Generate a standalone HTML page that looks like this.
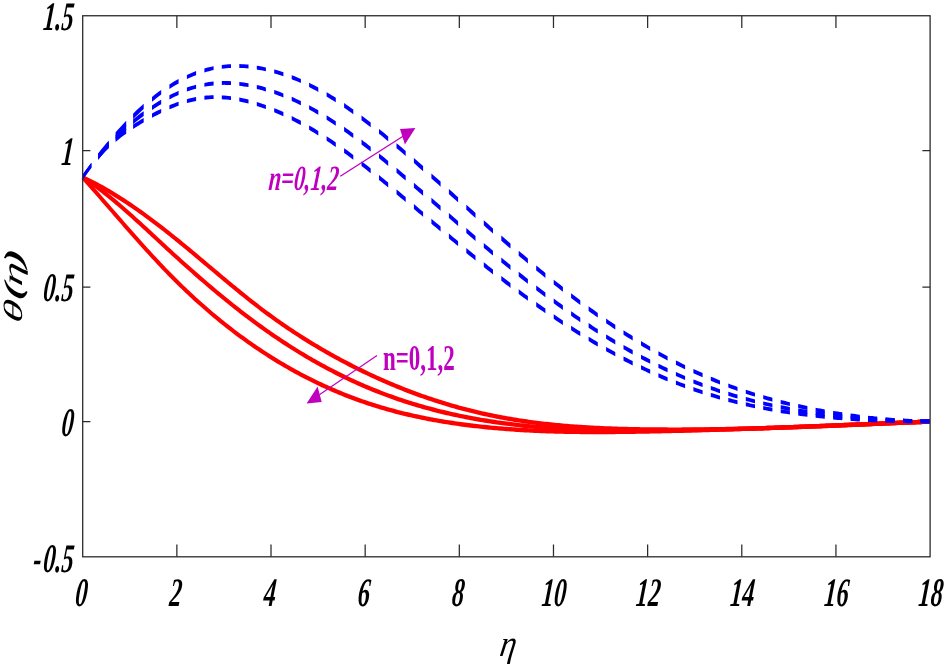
<!DOCTYPE html>
<html><head><meta charset="utf-8"><title>theta(eta)</title>
<style>
html,body{margin:0;padding:0;background:#fff;}
svg{display:block;}
text{font-family:"Liberation Serif",serif;}
.tk{font-weight:bold;font-style:italic;font-size:40.6px;fill:#000;}
</style></head><body>
<svg width="947" height="668" viewBox="0 0 947 668">
<rect width="947" height="668" fill="#fff"/>

<path d="M176.86,556.8v-12.2 M176.86,15.75v12.2 M271.01,556.8v-12.2 M271.01,15.75v12.2 M365.17,556.8v-12.2 M365.17,15.75v12.2 M459.32,556.8v-12.2 M459.32,15.75v12.2 M553.48,556.8v-12.2 M553.48,15.75v12.2 M647.63,556.8v-12.2 M647.63,15.75v12.2 M741.79,556.8v-12.2 M741.79,15.75v12.2 M835.94,556.8v-12.2 M835.94,15.75v12.2 M82.7,150.70h7.7 M930.1,150.70h-7.7 M82.7,287.00h7.7 M930.1,287.00h-7.7 M82.7,421.70h7.7 M930.1,421.70h-7.7" fill="none" stroke="#2b2b2b" stroke-width="1.25"/>
<path transform="scale(1,1.22)" d="M82.7,145.33 L84.7,146.10 L86.7,146.89 L88.7,147.69 L90.7,148.52 L92.7,149.35 L94.7,150.21 L96.7,151.08 L98.7,151.96 L100.7,152.86 L102.7,153.78 L104.7,154.71 L106.7,155.66 L108.7,156.62 L110.7,157.59 L112.7,158.58 L114.7,159.58 L116.7,160.60 L118.7,161.63 L120.7,162.67 L122.7,163.73 L124.7,164.79 L126.7,165.88 L128.7,166.97 L130.7,168.07 L132.7,169.19 L134.7,170.32 L136.7,171.46 L138.7,172.61 L140.7,173.78 L142.7,174.95 L144.7,176.14 L146.7,177.33 L148.7,178.54 L150.7,179.75 L152.7,180.98 L154.7,182.21 L156.7,183.46 L158.7,184.71 L160.7,185.97 L162.7,187.25 L164.7,188.53 L166.7,189.81 L168.7,191.11 L170.7,192.41 L172.7,193.73 L174.7,195.05 L176.7,196.37 L178.7,197.70 L180.7,199.04 L182.7,200.39 L184.7,201.74 L186.7,203.09 L188.7,204.45 L190.7,205.81 L192.7,207.18 L194.7,208.55 L196.7,209.92 L198.7,211.30 L200.7,212.67 L202.7,214.05 L204.7,215.43 L206.7,216.81 L208.7,218.19 L210.7,219.57 L212.7,220.95 L214.7,222.33 L216.7,223.71 L218.7,225.09 L220.7,226.46 L222.7,227.83 L224.7,229.20 L226.7,230.57 L228.7,231.93 L230.7,233.29 L232.7,234.64 L234.7,235.99 L236.7,237.33 L238.7,238.67 L240.7,240.00 L242.7,241.33 L244.7,242.65 L246.7,243.96 L248.7,245.26 L250.7,246.56 L252.7,247.84 L254.7,249.12 L256.7,250.39 L258.7,251.65 L260.7,252.90 L262.7,254.14 L264.7,255.37 L266.7,256.58 L268.7,257.79 L270.7,258.99 L272.7,260.18 L274.7,261.35 L276.7,262.52 L278.7,263.68 L280.7,264.83 L282.7,265.97 L284.7,267.09 L286.7,268.21 L288.7,269.32 L290.7,270.42 L292.7,271.51 L294.7,272.59 L296.7,273.67 L298.7,274.73 L300.7,275.78 L302.7,276.83 L304.7,277.86 L306.7,278.89 L308.7,279.90 L310.7,280.91 L312.7,281.91 L314.7,282.90 L316.7,283.88 L318.7,284.86 L320.7,285.82 L322.7,286.78 L324.7,287.72 L326.7,288.66 L328.7,289.59 L330.7,290.52 L332.7,291.43 L334.7,292.34 L336.7,293.24 L338.7,294.13 L340.7,295.01 L342.7,295.88 L344.7,296.75 L346.7,297.61 L348.7,298.46 L350.7,299.30 L352.7,300.14 L354.7,300.97 L356.7,301.79 L358.7,302.60 L360.7,303.40 L362.7,304.20 L364.7,304.99 L366.7,305.78 L368.7,306.55 L370.7,307.32 L372.7,308.09 L374.7,308.84 L376.7,309.59 L378.7,310.33 L380.7,311.06 L382.7,311.79 L384.7,312.51 L386.7,313.22 L388.7,313.92 L390.7,314.62 L392.7,315.31 L394.7,315.99 L396.7,316.66 L398.7,317.33 L400.7,317.99 L402.7,318.65 L404.7,319.29 L406.7,319.93 L408.7,320.56 L410.7,321.19 L412.7,321.81 L414.7,322.42 L416.7,323.02 L418.7,323.62 L420.7,324.21 L422.7,324.79 L424.7,325.36 L426.7,325.93 L428.7,326.49 L430.7,327.04 L432.7,327.59 L434.7,328.13 L436.7,328.66 L438.7,329.19 L440.7,329.71 L442.7,330.22 L444.7,330.72 L446.7,331.22 L448.7,331.71 L450.7,332.19 L452.7,332.67 L454.7,333.14 L456.7,333.60 L458.7,334.05 L460.7,334.50 L462.7,334.94 L464.7,335.38 L466.7,335.80 L468.7,336.22 L470.7,336.64 L472.7,337.04 L474.7,337.44 L476.7,337.83 L478.7,338.22 L480.7,338.60 L482.7,338.97 L484.7,339.33 L486.7,339.69 L488.7,340.04 L490.7,340.39 L492.7,340.73 L494.7,341.06 L496.7,341.38 L498.7,341.70 L500.7,342.01 L502.7,342.32 L504.7,342.62 L506.7,342.91 L508.7,343.20 L510.7,343.48 L512.7,343.76 L514.7,344.02 L516.7,344.29 L518.7,344.55 L520.7,344.80 L522.7,345.05 L524.7,345.29 L526.7,345.52 L528.7,345.75 L530.7,345.98 L532.7,346.20 L534.7,346.41 L536.7,346.62 L538.7,346.82 L540.7,347.02 L542.7,347.22 L544.7,347.40 L546.7,347.59 L548.7,347.77 L550.7,347.94 L552.7,348.11 L554.7,348.28 L556.7,348.44 L558.7,348.59 L560.7,348.75 L562.7,348.89 L564.7,349.04 L566.7,349.17 L568.7,349.31 L570.7,349.44 L572.7,349.57 L574.7,349.69 L576.7,349.81 L578.7,349.92 L580.7,350.03 L582.7,350.14 L584.7,350.24 L586.7,350.34 L588.7,350.44 L590.7,350.53 L592.7,350.62 L594.7,350.71 L596.7,350.79 L598.7,350.87 L600.7,350.95 L602.7,351.02 L604.7,351.09 L606.7,351.16 L608.7,351.22 L610.7,351.28 L612.7,351.34 L614.7,351.40 L616.7,351.45 L618.7,351.50 L620.7,351.55 L622.7,351.60 L624.7,351.64 L626.7,351.68 L628.7,351.72 L630.7,351.76 L632.7,351.79 L634.7,351.82 L636.7,351.85 L638.7,351.88 L640.7,351.91 L642.7,351.93 L644.7,351.96 L646.7,351.98 L648.7,352.00 L650.7,352.01 L652.7,352.03 L654.7,352.05 L656.7,352.06 L658.7,352.07 L660.7,352.08 L662.7,352.09 L664.7,352.10 L666.7,352.10 L668.7,352.11 L670.7,352.11 L672.7,352.11 L674.7,352.11 L676.7,352.11 L678.7,352.11 L680.7,352.11 L682.7,352.10 L684.7,352.10 L686.7,352.09 L688.7,352.08 L690.7,352.07 L692.7,352.06 L694.7,352.05 L696.7,352.03 L698.7,352.02 L700.7,352.00 L702.7,351.98 L704.7,351.97 L706.7,351.95 L708.7,351.93 L710.7,351.90 L712.7,351.88 L714.7,351.86 L716.7,351.83 L718.7,351.80 L720.7,351.78 L722.7,351.75 L724.7,351.72 L726.7,351.69 L728.7,351.66 L730.7,351.62 L732.7,351.59 L734.7,351.56 L736.7,351.52 L738.7,351.48 L740.7,351.45 L742.7,351.41 L744.7,351.37 L746.7,351.33 L748.7,351.29 L750.7,351.24 L752.7,351.20 L754.7,351.16 L756.7,351.11 L758.7,351.07 L760.7,351.02 L762.7,350.97 L764.7,350.93 L766.7,350.88 L768.7,350.83 L770.7,350.78 L772.7,350.73 L774.7,350.68 L776.7,350.62 L778.7,350.57 L780.7,350.52 L782.7,350.46 L784.7,350.41 L786.7,350.35 L788.7,350.30 L790.7,350.24 L792.7,350.18 L794.7,350.12 L796.7,350.07 L798.7,350.01 L800.7,349.95 L802.7,349.89 L804.7,349.83 L806.7,349.77 L808.7,349.70 L810.7,349.64 L812.7,349.58 L814.7,349.52 L816.7,349.45 L818.7,349.39 L820.7,349.33 L822.7,349.26 L824.7,349.20 L826.7,349.13 L828.7,349.06 L830.7,349.00 L832.7,348.93 L834.7,348.86 L836.7,348.80 L838.7,348.73 L840.7,348.66 L842.7,348.59 L844.7,348.53 L846.7,348.46 L848.7,348.39 L850.7,348.32 L852.7,348.25 L854.7,348.18 L856.7,348.11 L858.7,348.04 L860.7,347.97 L862.7,347.90 L864.7,347.83 L866.7,347.76 L868.7,347.69 L870.7,347.62 L872.7,347.55 L874.7,347.48 L876.7,347.41 L878.7,347.34 L880.7,347.27 L882.7,347.20 L884.7,347.13 L886.7,347.06 L888.7,346.99 L890.7,346.92 L892.7,346.85 L894.7,346.78 L896.7,346.71 L898.7,346.64 L900.7,346.57 L902.7,346.50 L904.7,346.43 L906.7,346.36 L908.7,346.29 L910.7,346.23 L912.7,346.16 L914.7,346.09 L916.7,346.02 L918.7,345.95 L920.7,345.88 L922.7,345.82 L924.7,345.75 L926.7,345.68 L928.7,345.62 L930.0,345.57" fill="none" stroke="#ff0000" stroke-width="3.6" stroke-linejoin="round"/>
<path transform="scale(1,1.22)" d="M82.7,145.33 L84.7,146.39 L86.7,147.48 L88.7,148.59 L90.7,149.72 L92.7,150.88 L94.7,152.06 L96.7,153.26 L98.7,154.48 L100.7,155.72 L102.7,156.98 L104.7,158.26 L106.7,159.56 L108.7,160.87 L110.7,162.21 L112.7,163.55 L114.7,164.91 L116.7,166.29 L118.7,167.68 L120.7,169.09 L122.7,170.50 L124.7,171.93 L126.7,173.37 L128.7,174.82 L130.7,176.28 L132.7,177.74 L134.7,179.22 L136.7,180.70 L138.7,182.19 L140.7,183.69 L142.7,185.19 L144.7,186.70 L146.7,188.21 L148.7,189.72 L150.7,191.24 L152.7,192.76 L154.7,194.28 L156.7,195.80 L158.7,197.32 L160.7,198.84 L162.7,200.36 L164.7,201.87 L166.7,203.39 L168.7,204.89 L170.7,206.40 L172.7,207.90 L174.7,209.40 L176.7,210.89 L178.7,212.37 L180.7,213.85 L182.7,215.33 L184.7,216.80 L186.7,218.26 L188.7,219.72 L190.7,221.17 L192.7,222.62 L194.7,224.06 L196.7,225.50 L198.7,226.93 L200.7,228.35 L202.7,229.77 L204.7,231.18 L206.7,232.58 L208.7,233.98 L210.7,235.37 L212.7,236.75 L214.7,238.13 L216.7,239.50 L218.7,240.86 L220.7,242.22 L222.7,243.57 L224.7,244.91 L226.7,246.24 L228.7,247.56 L230.7,248.88 L232.7,250.19 L234.7,251.49 L236.7,252.78 L238.7,254.07 L240.7,255.35 L242.7,256.62 L244.7,257.87 L246.7,259.13 L248.7,260.37 L250.7,261.60 L252.7,262.83 L254.7,264.04 L256.7,265.25 L258.7,266.45 L260.7,267.63 L262.7,268.81 L264.7,269.98 L266.7,271.14 L268.7,272.29 L270.7,273.43 L272.7,274.56 L274.7,275.69 L276.7,276.80 L278.7,277.90 L280.7,279.00 L282.7,280.08 L284.7,281.16 L286.7,282.22 L288.7,283.28 L290.7,284.33 L292.7,285.36 L294.7,286.39 L296.7,287.41 L298.7,288.42 L300.7,289.42 L302.7,290.41 L304.7,291.40 L306.7,292.37 L308.7,293.33 L310.7,294.29 L312.7,295.23 L314.7,296.17 L316.7,297.09 L318.7,298.01 L320.7,298.92 L322.7,299.82 L324.7,300.71 L326.7,301.59 L328.7,302.46 L330.7,303.32 L332.7,304.17 L334.7,305.02 L336.7,305.85 L338.7,306.68 L340.7,307.49 L342.7,308.30 L344.7,309.10 L346.7,309.89 L348.7,310.67 L350.7,311.44 L352.7,312.20 L354.7,312.95 L356.7,313.69 L358.7,314.43 L360.7,315.15 L362.7,315.87 L364.7,316.58 L366.7,317.27 L368.7,317.96 L370.7,318.64 L372.7,319.31 L374.7,319.98 L376.7,320.63 L378.7,321.27 L380.7,321.91 L382.7,322.54 L384.7,323.16 L386.7,323.77 L388.7,324.37 L390.7,324.97 L392.7,325.56 L394.7,326.13 L396.7,326.70 L398.7,327.27 L400.7,327.82 L402.7,328.37 L404.7,328.91 L406.7,329.44 L408.7,329.96 L410.7,330.47 L412.7,330.98 L414.7,331.48 L416.7,331.97 L418.7,332.46 L420.7,332.94 L422.7,333.41 L424.7,333.87 L426.7,334.33 L428.7,334.77 L430.7,335.22 L432.7,335.65 L434.7,336.08 L436.7,336.50 L438.7,336.91 L440.7,337.32 L442.7,337.72 L444.7,338.11 L446.7,338.50 L448.7,338.88 L450.7,339.25 L452.7,339.62 L454.7,339.98 L456.7,340.33 L458.7,340.68 L460.7,341.02 L462.7,341.36 L464.7,341.68 L466.7,342.01 L468.7,342.32 L470.7,342.63 L472.7,342.94 L474.7,343.24 L476.7,343.53 L478.7,343.82 L480.7,344.10 L482.7,344.38 L484.7,344.65 L486.7,344.91 L488.7,345.17 L490.7,345.43 L492.7,345.68 L494.7,345.92 L496.7,346.16 L498.7,346.39 L500.7,346.62 L502.7,346.84 L504.7,347.06 L506.7,347.27 L508.7,347.48 L510.7,347.68 L512.7,347.88 L514.7,348.08 L516.7,348.26 L518.7,348.45 L520.7,348.63 L522.7,348.80 L524.7,348.97 L526.7,349.14 L528.7,349.30 L530.7,349.46 L532.7,349.61 L534.7,349.76 L536.7,349.90 L538.7,350.04 L540.7,350.18 L542.7,350.31 L544.7,350.44 L546.7,350.56 L548.7,350.68 L550.7,350.80 L552.7,350.91 L554.7,351.02 L556.7,351.13 L558.7,351.23 L560.7,351.32 L562.7,351.42 L564.7,351.51 L566.7,351.60 L568.7,351.68 L570.7,351.76 L572.7,351.84 L574.7,351.91 L576.7,351.99 L578.7,352.05 L580.7,352.12 L582.7,352.18 L584.7,352.24 L586.7,352.30 L588.7,352.35 L590.7,352.40 L592.7,352.45 L594.7,352.50 L596.7,352.54 L598.7,352.58 L600.7,352.62 L602.7,352.65 L604.7,352.68 L606.7,352.71 L608.7,352.74 L610.7,352.77 L612.7,352.79 L614.7,352.81 L616.7,352.83 L618.7,352.85 L620.7,352.87 L622.7,352.88 L624.7,352.89 L626.7,352.90 L628.7,352.91 L630.7,352.92 L632.7,352.92 L634.7,352.93 L636.7,352.93 L638.7,352.93 L640.7,352.93 L642.7,352.92 L644.7,352.92 L646.7,352.92 L648.7,352.91 L650.7,352.90 L652.7,352.89 L654.7,352.88 L656.7,352.87 L658.7,352.86 L660.7,352.85 L662.7,352.83 L664.7,352.82 L666.7,352.80 L668.7,352.78 L670.7,352.76 L672.7,352.74 L674.7,352.72 L676.7,352.70 L678.7,352.68 L680.7,352.66 L682.7,352.63 L684.7,352.61 L686.7,352.58 L688.7,352.55 L690.7,352.52 L692.7,352.49 L694.7,352.46 L696.7,352.43 L698.7,352.40 L700.7,352.37 L702.7,352.33 L704.7,352.30 L706.7,352.26 L708.7,352.23 L710.7,352.19 L712.7,352.15 L714.7,352.11 L716.7,352.07 L718.7,352.03 L720.7,351.99 L722.7,351.95 L724.7,351.91 L726.7,351.87 L728.7,351.82 L730.7,351.78 L732.7,351.73 L734.7,351.68 L736.7,351.64 L738.7,351.59 L740.7,351.54 L742.7,351.49 L744.7,351.44 L746.7,351.39 L748.7,351.34 L750.7,351.29 L752.7,351.24 L754.7,351.19 L756.7,351.13 L758.7,351.08 L760.7,351.03 L762.7,350.97 L764.7,350.92 L766.7,350.86 L768.7,350.80 L770.7,350.75 L772.7,350.69 L774.7,350.63 L776.7,350.57 L778.7,350.51 L780.7,350.46 L782.7,350.40 L784.7,350.34 L786.7,350.28 L788.7,350.22 L790.7,350.15 L792.7,350.09 L794.7,350.03 L796.7,349.97 L798.7,349.91 L800.7,349.84 L802.7,349.78 L804.7,349.72 L806.7,349.65 L808.7,349.59 L810.7,349.52 L812.7,349.46 L814.7,349.39 L816.7,349.33 L818.7,349.26 L820.7,349.20 L822.7,349.13 L824.7,349.06 L826.7,349.00 L828.7,348.93 L830.7,348.86 L832.7,348.80 L834.7,348.73 L836.7,348.66 L838.7,348.60 L840.7,348.53 L842.7,348.46 L844.7,348.39 L846.7,348.33 L848.7,348.26 L850.7,348.19 L852.7,348.12 L854.7,348.05 L856.7,347.99 L858.7,347.92 L860.7,347.85 L862.7,347.78 L864.7,347.71 L866.7,347.65 L868.7,347.58 L870.7,347.51 L872.7,347.44 L874.7,347.38 L876.7,347.31 L878.7,347.24 L880.7,347.17 L882.7,347.11 L884.7,347.04 L886.7,346.97 L888.7,346.90 L890.7,346.84 L892.7,346.77 L894.7,346.70 L896.7,346.64 L898.7,346.57 L900.7,346.51 L902.7,346.44 L904.7,346.38 L906.7,346.31 L908.7,346.25 L910.7,346.18 L912.7,346.12 L914.7,346.05 L916.7,345.99 L918.7,345.92 L920.7,345.86 L922.7,345.80 L924.7,345.74 L926.7,345.67 L928.7,345.61 L930.0,345.57" fill="none" stroke="#ff0000" stroke-width="3.6" stroke-linejoin="round"/>
<path transform="scale(1,1.22)" d="M82.7,145.33 L84.7,147.17 L86.7,149.02 L88.7,150.87 L90.7,152.73 L92.7,154.60 L94.7,156.46 L96.7,158.34 L98.7,160.21 L100.7,162.09 L102.7,163.97 L104.7,165.85 L106.7,167.73 L108.7,169.62 L110.7,171.50 L112.7,173.38 L114.7,175.27 L116.7,177.15 L118.7,179.03 L120.7,180.91 L122.7,182.79 L124.7,184.66 L126.7,186.53 L128.7,188.39 L130.7,190.25 L132.7,192.11 L134.7,193.96 L136.7,195.81 L138.7,197.65 L140.7,199.48 L142.7,201.30 L144.7,203.12 L146.7,204.93 L148.7,206.73 L150.7,208.52 L152.7,210.30 L154.7,212.07 L156.7,213.83 L158.7,215.58 L160.7,217.32 L162.7,219.04 L164.7,220.76 L166.7,222.45 L168.7,224.14 L170.7,225.81 L172.7,227.47 L174.7,229.12 L176.7,230.75 L178.7,232.36 L180.7,233.96 L182.7,235.55 L184.7,237.13 L186.7,238.69 L188.7,240.23 L190.7,241.77 L192.7,243.28 L194.7,244.79 L196.7,246.28 L198.7,247.76 L200.7,249.23 L202.7,250.68 L204.7,252.12 L206.7,253.54 L208.7,254.96 L210.7,256.36 L212.7,257.74 L214.7,259.12 L216.7,260.48 L218.7,261.83 L220.7,263.16 L222.7,264.48 L224.7,265.79 L226.7,267.09 L228.7,268.38 L230.7,269.65 L232.7,270.91 L234.7,272.16 L236.7,273.40 L238.7,274.62 L240.7,275.83 L242.7,277.03 L244.7,278.22 L246.7,279.40 L248.7,280.56 L250.7,281.71 L252.7,282.86 L254.7,283.99 L256.7,285.10 L258.7,286.21 L260.7,287.30 L262.7,288.39 L264.7,289.46 L266.7,290.52 L268.7,291.57 L270.7,292.61 L272.7,293.64 L274.7,294.66 L276.7,295.66 L278.7,296.66 L280.7,297.64 L282.7,298.61 L284.7,299.57 L286.7,300.52 L288.7,301.46 L290.7,302.39 L292.7,303.31 L294.7,304.22 L296.7,305.12 L298.7,306.01 L300.7,306.88 L302.7,307.75 L304.7,308.60 L306.7,309.45 L308.7,310.28 L310.7,311.11 L312.7,311.92 L314.7,312.73 L316.7,313.52 L318.7,314.31 L320.7,315.08 L322.7,315.84 L324.7,316.60 L326.7,317.34 L328.7,318.08 L330.7,318.80 L332.7,319.52 L334.7,320.22 L336.7,320.92 L338.7,321.60 L340.7,322.28 L342.7,322.94 L344.7,323.60 L346.7,324.25 L348.7,324.89 L350.7,325.51 L352.7,326.13 L354.7,326.74 L356.7,327.34 L358.7,327.94 L360.7,328.52 L362.7,329.09 L364.7,329.65 L366.7,330.21 L368.7,330.76 L370.7,331.29 L372.7,331.82 L374.7,332.34 L376.7,332.85 L378.7,333.36 L380.7,333.85 L382.7,334.34 L384.7,334.82 L386.7,335.29 L388.7,335.75 L390.7,336.20 L392.7,336.65 L394.7,337.09 L396.7,337.52 L398.7,337.94 L400.7,338.36 L402.7,338.77 L404.7,339.17 L406.7,339.56 L408.7,339.94 L410.7,340.32 L412.7,340.70 L414.7,341.06 L416.7,341.42 L418.7,341.77 L420.7,342.11 L422.7,342.45 L424.7,342.78 L426.7,343.11 L428.7,343.42 L430.7,343.73 L432.7,344.04 L434.7,344.34 L436.7,344.63 L438.7,344.92 L440.7,345.20 L442.7,345.47 L444.7,345.74 L446.7,346.01 L448.7,346.26 L450.7,346.52 L452.7,346.76 L454.7,347.01 L456.7,347.24 L458.7,347.47 L460.7,347.70 L462.7,347.92 L464.7,348.13 L466.7,348.34 L468.7,348.55 L470.7,348.75 L472.7,348.95 L474.7,349.14 L476.7,349.33 L478.7,349.51 L480.7,349.69 L482.7,349.86 L484.7,350.03 L486.7,350.20 L488.7,350.36 L490.7,350.52 L492.7,350.67 L494.7,350.82 L496.7,350.97 L498.7,351.11 L500.7,351.25 L502.7,351.38 L504.7,351.51 L506.7,351.64 L508.7,351.76 L510.7,351.88 L512.7,351.99 L514.7,352.10 L516.7,352.21 L518.7,352.32 L520.7,352.42 L522.7,352.51 L524.7,352.61 L526.7,352.70 L528.7,352.79 L530.7,352.87 L532.7,352.95 L534.7,353.03 L536.7,353.11 L538.7,353.18 L540.7,353.25 L542.7,353.31 L544.7,353.38 L546.7,353.44 L548.7,353.49 L550.7,353.55 L552.7,353.60 L554.7,353.65 L556.7,353.69 L558.7,353.74 L560.7,353.78 L562.7,353.82 L564.7,353.85 L566.7,353.88 L568.7,353.91 L570.7,353.94 L572.7,353.97 L574.7,353.99 L576.7,354.01 L578.7,354.03 L580.7,354.05 L582.7,354.07 L584.7,354.08 L586.7,354.09 L588.7,354.10 L590.7,354.11 L592.7,354.11 L594.7,354.11 L596.7,354.12 L598.7,354.11 L600.7,354.11 L602.7,354.11 L604.7,354.10 L606.7,354.10 L608.7,354.09 L610.7,354.08 L612.7,354.06 L614.7,354.05 L616.7,354.04 L618.7,354.02 L620.7,354.00 L622.7,353.99 L624.7,353.97 L626.7,353.94 L628.7,353.92 L630.7,353.90 L632.7,353.87 L634.7,353.85 L636.7,353.82 L638.7,353.80 L640.7,353.77 L642.7,353.74 L644.7,353.71 L646.7,353.68 L648.7,353.65 L650.7,353.62 L652.7,353.58 L654.7,353.55 L656.7,353.52 L658.7,353.48 L660.7,353.45 L662.7,353.41 L664.7,353.38 L666.7,353.34 L668.7,353.30 L670.7,353.26 L672.7,353.22 L674.7,353.19 L676.7,353.15 L678.7,353.11 L680.7,353.07 L682.7,353.02 L684.7,352.98 L686.7,352.94 L688.7,352.90 L690.7,352.85 L692.7,352.81 L694.7,352.76 L696.7,352.72 L698.7,352.67 L700.7,352.63 L702.7,352.58 L704.7,352.53 L706.7,352.49 L708.7,352.44 L710.7,352.39 L712.7,352.34 L714.7,352.29 L716.7,352.24 L718.7,352.19 L720.7,352.14 L722.7,352.09 L724.7,352.04 L726.7,351.99 L728.7,351.94 L730.7,351.88 L732.7,351.83 L734.7,351.78 L736.7,351.72 L738.7,351.67 L740.7,351.61 L742.7,351.56 L744.7,351.50 L746.7,351.45 L748.7,351.39 L750.7,351.33 L752.7,351.28 L754.7,351.22 L756.7,351.16 L758.7,351.10 L760.7,351.05 L762.7,350.99 L764.7,350.93 L766.7,350.87 L768.7,350.81 L770.7,350.75 L772.7,350.69 L774.7,350.63 L776.7,350.57 L778.7,350.51 L780.7,350.45 L782.7,350.39 L784.7,350.33 L786.7,350.26 L788.7,350.20 L790.7,350.14 L792.7,350.08 L794.7,350.01 L796.7,349.95 L798.7,349.89 L800.7,349.82 L802.7,349.76 L804.7,349.70 L806.7,349.63 L808.7,349.57 L810.7,349.50 L812.7,349.44 L814.7,349.38 L816.7,349.31 L818.7,349.25 L820.7,349.18 L822.7,349.12 L824.7,349.05 L826.7,348.99 L828.7,348.92 L830.7,348.85 L832.7,348.79 L834.7,348.72 L836.7,348.66 L838.7,348.59 L840.7,348.52 L842.7,348.46 L844.7,348.39 L846.7,348.32 L848.7,348.26 L850.7,348.19 L852.7,348.13 L854.7,348.06 L856.7,347.99 L858.7,347.93 L860.7,347.86 L862.7,347.79 L864.7,347.73 L866.7,347.66 L868.7,347.59 L870.7,347.52 L872.7,347.46 L874.7,347.39 L876.7,347.32 L878.7,347.26 L880.7,347.19 L882.7,347.12 L884.7,347.06 L886.7,346.99 L888.7,346.92 L890.7,346.86 L892.7,346.79 L894.7,346.73 L896.7,346.66 L898.7,346.59 L900.7,346.53 L902.7,346.46 L904.7,346.40 L906.7,346.33 L908.7,346.26 L910.7,346.20 L912.7,346.13 L914.7,346.07 L916.7,346.00 L918.7,345.94 L920.7,345.87 L922.7,345.81 L924.7,345.74 L926.7,345.68 L928.7,345.62 L930.0,345.57" fill="none" stroke="#ff0000" stroke-width="3.6" stroke-linejoin="round"/>
<path d="M82.7,174.9 L84.8,171.9 L87.0,169.0 L89.2,166.1 L91.3,163.2 L91.3,167.9 L89.2,170.8 L87.0,173.7 L84.8,176.7 L82.7,179.7Z M98.2,153.5 L100.8,150.1 L103.5,146.8 L106.1,143.6 L108.8,140.4 L108.8,146.3 L106.1,149.6 L103.5,152.9 L100.8,156.3 L98.2,159.7Z M115.6,132.3 L118.3,129.3 L120.9,126.4 L123.6,123.5 L126.2,120.7 L126.2,126.3 L123.6,129.1 L120.9,132.1 L118.3,135.1 L115.6,138.1Z M133.1,113.7 L135.7,111.1 L138.4,108.6 L141.0,106.2 L143.7,103.8 L143.7,108.9 L141.0,111.4 L138.4,113.9 L135.7,116.5 L133.1,119.1Z M152.0,96.9 L154.3,95.1 L156.6,93.3 L158.9,91.6 L161.2,89.9 L161.2,94.6 L158.9,96.3 L156.6,98.1 L154.3,99.9 L152.0,101.8Z M169.4,84.4 L171.7,83.0 L174.0,81.6 L176.3,80.3 L178.6,79.0 L178.6,83.4 L176.3,84.7 L174.0,86.0 L171.7,87.4 L169.4,88.9Z M186.9,74.9 L189.2,73.9 L191.5,72.9 L193.8,72.0 L196.1,71.1 L196.1,75.2 L193.8,76.1 L191.5,77.0 L189.2,78.1 L186.9,79.1Z M204.4,68.5 L206.7,67.8 L209.0,67.3 L211.3,66.7 L213.6,66.3 L213.6,70.1 L211.3,70.6 L209.0,71.2 L206.7,71.8 L204.4,72.4Z M221.8,64.9 L224.1,64.7 L226.4,64.5 L228.7,64.3 L231.0,64.2 L231.0,68.0 L228.7,68.1 L226.4,68.3 L224.1,68.5 L221.8,68.8Z M239.3,64.1 L241.6,64.2 L243.9,64.3 L246.2,64.4 L248.5,64.6 L248.5,68.4 L246.2,68.2 L243.9,68.1 L241.6,68.0 L239.3,67.9Z M256.8,65.7 L259.1,66.0 L261.4,66.4 L263.6,66.9 L265.9,67.4 L265.9,71.3 L263.6,70.8 L261.4,70.3 L259.1,69.9 L256.8,69.5Z M274.2,69.4 L276.5,70.1 L278.8,70.7 L281.1,71.5 L283.4,72.2 L283.4,76.2 L281.1,75.4 L278.8,74.7 L276.5,74.0 L274.2,73.4Z M291.7,75.2 L294.0,76.1 L296.3,77.0 L298.6,78.0 L300.9,79.0 L300.9,83.1 L298.6,82.1 L296.3,81.1 L294.0,80.2 L291.7,79.3Z M309.1,82.8 L311.4,84.0 L313.7,85.1 L316.0,86.3 L318.3,87.5 L318.3,91.9 L316.0,90.6 L313.7,89.4 L311.4,88.2 L309.1,87.1Z M326.6,92.2 L328.9,93.5 L331.2,94.9 L333.5,96.3 L335.8,97.8 L335.8,102.3 L333.5,100.8 L331.2,99.4 L328.9,98.0 L326.6,96.6Z M344.1,103.1 L346.4,104.7 L348.7,106.3 L351.0,107.9 L353.3,109.5 L353.3,114.2 L351.0,112.5 L348.7,110.9 L346.4,109.3 L344.1,107.7Z M361.5,115.5 L363.8,117.2 L366.1,118.9 L368.4,120.7 L370.7,122.4 L370.7,127.2 L368.4,125.5 L366.1,123.7 L363.8,121.9 L361.5,120.2Z M379.0,128.9 L381.3,130.8 L383.6,132.6 L385.9,134.5 L388.2,136.4 L388.2,141.3 L385.9,139.4 L383.6,137.5 L381.3,135.6 L379.0,133.8Z M396.5,143.2 L398.8,145.1 L401.1,147.1 L403.4,149.0 L405.7,151.0 L405.7,156.0 L403.4,154.0 L401.1,152.1 L398.8,150.1 L396.5,148.2Z M413.9,158.1 L416.2,160.1 L418.5,162.1 L420.8,164.1 L423.1,166.1 L423.1,171.2 L420.8,169.2 L418.5,167.2 L416.2,165.1 L413.9,163.1Z M431.4,173.4 L433.7,175.5 L436.0,177.5 L438.3,179.6 L440.6,181.6 L440.6,186.7 L438.3,184.6 L436.0,182.6 L433.7,180.5 L431.4,178.5Z M448.9,189.0 L451.2,191.1 L453.5,193.1 L455.8,195.2 L458.1,197.2 L458.1,202.3 L455.8,200.3 L453.5,198.2 L451.2,196.2 L448.9,194.1Z M466.3,204.7 L468.6,206.7 L470.9,208.8 L473.2,210.8 L475.5,212.9 L475.5,218.0 L473.2,215.9 L470.9,213.9 L468.6,211.8 L466.3,209.8Z M483.8,220.3 L486.1,222.3 L488.4,224.3 L490.7,226.4 L493.0,228.4 L493.0,233.5 L490.7,231.4 L488.4,229.4 L486.1,227.4 L483.8,225.3Z M501.3,235.6 L503.6,237.6 L505.9,239.6 L508.2,241.6 L510.5,243.6 L510.5,248.6 L508.2,246.7 L505.9,244.7 L503.6,242.7 L501.3,240.7Z M518.7,250.7 L521.0,252.7 L523.3,254.6 L525.6,256.6 L527.9,258.5 L527.9,263.5 L525.6,261.6 L523.3,259.6 L521.0,257.7 L518.7,255.7Z M536.2,265.4 L538.5,267.3 L540.8,269.2 L543.1,271.1 L545.4,273.0 L545.4,277.9 L543.1,276.0 L540.8,274.1 L538.5,272.3 L536.2,270.4Z M553.7,279.7 L556.0,281.5 L558.3,283.3 L560.6,285.1 L562.9,286.9 L562.9,291.7 L560.6,290.0 L558.3,288.1 L556.0,286.3 L553.7,284.5Z M571.1,293.3 L573.4,295.1 L575.7,296.8 L578.0,298.5 L580.3,300.3 L580.3,305.0 L578.0,303.3 L575.7,301.6 L573.4,299.8 L571.1,298.1Z M588.6,306.3 L590.9,308.0 L593.2,309.6 L595.5,311.3 L597.8,312.9 L597.8,317.6 L595.5,315.9 L593.2,314.3 L590.9,312.7 L588.6,311.0Z M606.1,318.6 L608.4,320.2 L610.7,321.8 L613.0,323.3 L615.3,324.8 L615.3,329.4 L613.0,327.9 L610.7,326.3 L608.4,324.8 L606.1,323.2Z M623.5,330.2 L625.8,331.7 L628.1,333.2 L630.4,334.6 L632.7,336.0 L632.7,340.5 L630.4,339.1 L628.1,337.7 L625.8,336.2 L623.5,334.8Z M641.0,341.1 L643.3,342.5 L645.6,343.8 L647.9,345.2 L650.2,346.5 L650.2,350.9 L647.9,349.6 L645.6,348.2 L643.3,346.9 L641.0,345.5Z M658.4,351.2 L660.7,352.4 L663.0,353.7 L665.3,354.9 L667.6,356.2 L667.6,360.5 L665.3,359.3 L663.0,358.0 L660.7,356.8 L658.4,355.5Z M675.9,360.5 L678.2,361.6 L680.5,362.8 L682.8,363.9 L685.1,365.1 L685.1,369.3 L682.8,368.2 L680.5,367.0 L678.2,365.9 L675.9,364.7Z M693.4,369.0 L695.7,370.0 L698.0,371.1 L700.3,372.1 L702.6,373.1 L702.6,377.3 L700.3,376.3 L698.0,375.3 L695.7,374.2 L693.4,373.2Z M710.8,376.7 L713.1,377.6 L715.4,378.6 L717.7,379.5 L720.0,380.4 L720.0,384.5 L717.7,383.6 L715.4,382.7 L713.1,381.7 L710.8,380.8Z M728.3,383.6 L730.6,384.4 L732.9,385.3 L735.2,386.1 L737.5,386.9 L737.5,390.9 L735.2,390.1 L732.9,389.3 L730.6,388.5 L728.3,387.6Z M745.8,389.7 L748.1,390.5 L750.4,391.2 L752.7,391.9 L755.0,392.7 L755.0,396.6 L752.7,395.9 L750.4,395.2 L748.1,394.5 L745.8,393.7Z M763.2,395.2 L765.5,395.8 L767.8,396.5 L770.1,397.1 L772.4,397.8 L772.4,401.7 L770.1,401.1 L767.8,400.4 L765.5,399.8 L763.2,399.1Z M780.7,399.9 L783.0,400.5 L785.3,401.1 L787.6,401.7 L789.9,402.2 L789.9,406.1 L787.6,405.6 L785.3,405.0 L783.0,404.5 L780.7,403.9Z M798.2,404.1 L800.5,404.6 L802.8,405.1 L805.1,405.6 L807.4,406.1 L807.4,410.0 L805.1,409.5 L802.8,409.0 L800.5,408.5 L798.2,408.0Z M815.6,407.8 L817.9,408.2 L820.2,408.6 L822.5,409.1 L824.8,409.5 L824.8,413.3 L822.5,412.9 L820.2,412.5 L817.9,412.1 L815.6,411.6Z M833.1,410.9 L835.4,411.3 L837.7,411.6 L840.0,412.0 L842.3,412.3 L842.3,416.2 L840.0,415.8 L837.7,415.5 L835.4,415.1 L833.1,414.7Z M850.6,413.5 L852.9,413.8 L855.2,414.1 L857.5,414.4 L859.8,414.7 L859.8,418.5 L857.5,418.2 L855.2,418.0 L852.9,417.7 L850.6,417.3Z M868.0,415.7 L870.3,415.9 L872.6,416.1 L874.9,416.4 L877.2,416.6 L877.2,420.4 L874.9,420.2 L872.6,420.0 L870.3,419.7 L868.0,419.5Z M885.5,417.3 L887.8,417.5 L890.1,417.7 L892.4,417.9 L894.7,418.0 L894.7,421.8 L892.4,421.7 L890.1,421.5 L887.8,421.3 L885.5,421.1Z M903.0,418.5 L905.3,418.7 L907.6,418.8 L909.9,418.9 L912.2,419.0 L912.2,422.8 L909.9,422.7 L907.6,422.6 L905.3,422.5 L903.0,422.3Z M920.4,419.3 L922.7,419.3 L925.0,419.4 L927.3,419.5 L929.6,419.5 L929.6,423.3 L927.3,423.3 L925.0,423.2 L922.7,423.1 L920.4,423.1Z" fill="#0000ff" stroke="none"/>
<path d="M82.7,174.8 L84.8,171.8 L87.0,168.8 L89.2,165.9 L91.3,163.0 L91.3,167.7 L89.2,170.6 L87.0,173.6 L84.8,176.6 L82.7,179.8Z M98.2,153.7 L100.8,150.6 L103.5,147.5 L106.1,144.6 L108.8,141.8 L108.8,147.3 L106.1,150.3 L103.5,153.3 L100.8,156.4 L98.2,159.7Z M115.6,134.8 L118.3,132.2 L120.9,129.8 L123.6,127.4 L126.2,125.0 L126.2,130.1 L123.6,132.5 L120.9,135.0 L118.3,137.5 L115.6,140.1Z M133.1,119.3 L135.7,117.2 L138.4,115.1 L141.0,113.1 L143.7,111.2 L143.7,115.9 L141.0,117.9 L138.4,120.0 L135.7,122.1 L133.1,124.2Z M152.0,105.5 L154.3,104.0 L156.6,102.5 L158.9,101.1 L161.2,99.7 L161.2,104.2 L158.9,105.6 L156.6,107.0 L154.3,108.5 L152.0,110.0Z M169.4,95.2 L171.7,94.0 L174.0,92.9 L176.3,91.9 L178.6,90.8 L178.6,95.0 L176.3,96.0 L174.0,97.1 L171.7,98.3 L169.4,99.5Z M186.9,87.6 L189.2,86.8 L191.5,86.0 L193.8,85.4 L196.1,84.7 L196.1,88.7 L193.8,89.3 L191.5,90.0 L189.2,90.8 L186.9,91.6Z M204.4,82.9 L206.7,82.5 L209.0,82.1 L211.3,81.8 L213.6,81.6 L213.6,85.4 L211.3,85.7 L209.0,86.0 L206.7,86.3 L204.4,86.7Z M221.8,81.1 L224.1,81.0 L226.4,81.1 L228.7,81.1 L231.0,81.2 L231.0,85.0 L228.7,84.9 L226.4,84.9 L224.1,84.8 L221.8,84.9Z M239.3,81.9 L241.6,82.2 L243.9,82.5 L246.2,82.9 L248.5,83.3 L248.5,87.1 L246.2,86.7 L243.9,86.4 L241.6,86.0 L239.3,85.7Z M256.8,85.0 L259.1,85.6 L261.4,86.1 L263.6,86.8 L265.9,87.4 L265.9,91.4 L263.6,90.7 L261.4,90.1 L259.1,89.5 L256.8,88.9Z M274.2,90.0 L276.5,90.8 L278.8,91.6 L281.1,92.5 L283.4,93.4 L283.4,97.5 L281.1,96.6 L278.8,95.7 L276.5,94.8 L274.2,94.0Z M291.7,96.8 L294.0,97.8 L296.3,98.9 L298.6,99.9 L300.9,101.0 L300.9,105.3 L298.6,104.2 L296.3,103.1 L294.0,102.0 L291.7,100.9Z M309.1,105.2 L311.4,106.5 L313.7,107.7 L316.0,109.0 L318.3,110.3 L318.3,114.7 L316.0,113.4 L313.7,112.1 L311.4,110.8 L309.1,109.6Z M326.6,115.3 L328.9,116.7 L331.2,118.2 L333.5,119.7 L335.8,121.2 L335.8,125.7 L333.5,124.2 L331.2,122.7 L328.9,121.2 L326.6,119.8Z M344.1,126.8 L346.4,128.4 L348.7,130.1 L351.0,131.7 L353.3,133.4 L353.3,138.1 L351.0,136.4 L348.7,134.8 L346.4,133.1 L344.1,131.5Z M361.5,139.6 L363.8,141.4 L366.1,143.1 L368.4,144.9 L370.7,146.8 L370.7,151.6 L368.4,149.8 L366.1,148.0 L363.8,146.2 L361.5,144.4Z M379.0,153.4 L381.3,155.2 L383.6,157.1 L385.9,159.0 L388.2,160.9 L388.2,165.9 L385.9,164.0 L383.6,162.0 L381.3,160.2 L379.0,158.3Z M396.5,167.8 L398.8,169.8 L401.1,171.7 L403.4,173.7 L405.7,175.6 L405.7,180.6 L403.4,178.7 L401.1,176.7 L398.8,174.8 L396.5,172.8Z M413.9,182.7 L416.2,184.7 L418.5,186.7 L420.8,188.6 L423.1,190.6 L423.1,195.7 L420.8,193.7 L418.5,191.7 L416.2,189.7 L413.9,187.7Z M431.4,197.8 L433.7,199.8 L436.0,201.8 L438.3,203.8 L440.6,205.8 L440.6,210.8 L438.3,208.8 L436.0,206.8 L433.7,204.8 L431.4,202.8Z M448.9,212.9 L451.2,214.9 L453.5,216.9 L455.8,218.9 L458.1,220.9 L458.1,225.9 L455.8,223.9 L453.5,222.0 L451.2,220.0 L448.9,218.0Z M466.3,228.0 L468.6,230.0 L470.9,232.0 L473.2,234.0 L475.5,235.9 L475.5,240.9 L473.2,239.0 L470.9,237.0 L468.6,235.0 L466.3,233.1Z M483.8,242.9 L486.1,244.9 L488.4,246.8 L490.7,248.7 L493.0,250.7 L493.0,255.6 L490.7,253.7 L488.4,251.8 L486.1,249.8 L483.8,247.9Z M501.3,257.5 L503.6,259.4 L505.9,261.3 L508.2,263.2 L510.5,265.0 L510.5,269.9 L508.2,268.1 L505.9,266.2 L503.6,264.3 L501.3,262.4Z M518.7,271.7 L521.0,273.5 L523.3,275.3 L525.6,277.2 L527.9,279.0 L527.9,283.8 L525.6,282.0 L523.3,280.2 L521.0,278.4 L518.7,276.5Z M536.2,285.4 L538.5,287.2 L540.8,288.9 L543.1,290.7 L545.4,292.4 L545.4,297.2 L543.1,295.4 L540.8,293.7 L538.5,292.0 L536.2,290.2Z M553.7,298.6 L556.0,300.3 L558.3,302.0 L560.6,303.6 L562.9,305.3 L562.9,310.0 L560.6,308.3 L558.3,306.7 L556.0,305.0 L553.7,303.3Z M571.1,311.2 L573.4,312.8 L575.7,314.4 L578.0,316.0 L580.3,317.6 L580.3,322.2 L578.0,320.6 L575.7,319.0 L573.4,317.4 L571.1,315.8Z M588.6,323.1 L590.9,324.6 L593.2,326.2 L595.5,327.7 L597.8,329.1 L597.8,333.6 L595.5,332.2 L593.2,330.7 L590.9,329.2 L588.6,327.7Z M606.1,334.4 L608.4,335.8 L610.7,337.2 L613.0,338.6 L615.3,340.0 L615.3,344.4 L613.0,343.1 L610.7,341.7 L608.4,340.3 L606.1,338.8Z M623.5,344.9 L625.8,346.2 L628.1,347.5 L630.4,348.8 L632.7,350.1 L632.7,354.5 L630.4,353.2 L628.1,351.9 L625.8,350.6 L623.5,349.3Z M641.0,354.7 L643.3,355.9 L645.6,357.1 L647.9,358.3 L650.2,359.5 L650.2,363.8 L647.9,362.6 L645.6,361.4 L643.3,360.2 L641.0,359.0Z M658.4,363.7 L660.7,364.8 L663.0,365.9 L665.3,367.0 L667.6,368.1 L667.6,372.3 L665.3,371.2 L663.0,370.2 L660.7,369.0 L658.4,367.9Z M675.9,371.9 L678.2,373.0 L680.5,374.0 L682.8,375.0 L685.1,376.0 L685.1,380.1 L682.8,379.1 L680.5,378.1 L678.2,377.1 L675.9,376.1Z M693.4,379.4 L695.7,380.3 L698.0,381.2 L700.3,382.1 L702.6,383.0 L702.6,387.0 L700.3,386.2 L698.0,385.3 L695.7,384.4 L693.4,383.5Z M710.8,386.0 L713.1,386.8 L715.4,387.6 L717.7,388.4 L720.0,389.2 L720.0,393.2 L717.7,392.4 L715.4,391.6 L713.1,390.8 L710.8,390.0Z M728.3,391.8 L730.6,392.6 L732.9,393.3 L735.2,393.9 L737.5,394.6 L737.5,398.6 L735.2,397.9 L732.9,397.2 L730.6,396.5 L728.3,395.8Z M745.8,396.9 L748.1,397.6 L750.4,398.2 L752.7,398.8 L755.0,399.4 L755.0,403.3 L752.7,402.7 L750.4,402.1 L748.1,401.5 L745.8,400.9Z M763.2,401.4 L765.5,401.9 L767.8,402.4 L770.1,402.9 L772.4,403.5 L772.4,407.3 L770.1,406.8 L767.8,406.3 L765.5,405.8 L763.2,405.3Z M780.7,405.2 L783.0,405.6 L785.3,406.1 L787.6,406.5 L789.9,407.0 L789.9,410.8 L787.6,410.4 L785.3,410.0 L783.0,409.5 L780.7,409.1Z M798.2,408.4 L800.5,408.8 L802.8,409.2 L805.1,409.6 L807.4,409.9 L807.4,413.8 L805.1,413.4 L802.8,413.1 L800.5,412.7 L798.2,412.3Z M815.6,411.2 L817.9,411.5 L820.2,411.8 L822.5,412.1 L824.8,412.4 L824.8,416.3 L822.5,416.0 L820.2,415.7 L817.9,415.3 L815.6,415.0Z M833.1,413.5 L835.4,413.8 L837.7,414.0 L840.0,414.3 L842.3,414.5 L842.3,418.4 L840.0,418.1 L837.7,417.8 L835.4,417.6 L833.1,417.3Z M850.6,415.4 L852.9,415.6 L855.2,415.8 L857.5,416.0 L859.8,416.2 L859.8,420.0 L857.5,419.8 L855.2,419.6 L852.9,419.4 L850.6,419.2Z M868.0,416.9 L870.3,417.1 L872.6,417.2 L874.9,417.4 L877.2,417.5 L877.2,421.3 L874.9,421.2 L872.6,421.0 L870.3,420.9 L868.0,420.7Z M885.5,418.0 L887.8,418.2 L890.1,418.3 L892.4,418.4 L894.7,418.5 L894.7,422.3 L892.4,422.2 L890.1,422.1 L887.8,422.0 L885.5,421.8Z M903.0,418.8 L905.3,418.9 L907.6,419.0 L909.9,419.1 L912.2,419.1 L912.2,422.9 L909.9,422.9 L907.6,422.8 L905.3,422.7 L903.0,422.6Z M920.4,419.3 L922.7,419.4 L925.0,419.4 L927.3,419.5 L929.6,419.5 L929.6,423.3 L927.3,423.3 L925.0,423.2 L922.7,423.2 L920.4,423.1Z" fill="#0000ff" stroke="none"/>
<path d="M82.7,174.7 L84.8,171.6 L87.0,168.5 L89.2,165.6 L91.3,162.8 L91.3,167.4 L89.2,170.3 L87.0,173.4 L84.8,176.6 L82.7,179.9Z M98.2,153.8 L100.8,150.9 L103.5,148.1 L106.1,145.5 L108.8,143.0 L108.8,148.2 L106.1,150.8 L103.5,153.6 L100.8,156.5 L98.2,159.6Z M115.6,137.0 L118.3,134.9 L120.9,132.9 L123.6,130.9 L126.2,129.0 L126.2,133.7 L123.6,135.6 L120.9,137.6 L118.3,139.8 L115.6,142.0Z M133.1,124.5 L135.7,122.8 L138.4,121.2 L141.0,119.6 L143.7,118.1 L143.7,122.5 L141.0,124.1 L138.4,125.7 L135.7,127.3 L133.1,129.0Z M152.0,113.5 L154.3,112.3 L156.6,111.1 L158.9,110.0 L161.2,108.9 L161.2,113.1 L158.9,114.2 L156.6,115.4 L154.3,116.6 L152.0,117.8Z M169.4,105.2 L171.7,104.3 L174.0,103.4 L176.3,102.5 L178.6,101.7 L178.6,105.7 L176.3,106.6 L174.0,107.4 L171.7,108.4 L169.4,109.3Z M186.9,99.2 L189.2,98.6 L191.5,98.0 L193.8,97.5 L196.1,97.0 L196.1,100.9 L193.8,101.4 L191.5,101.9 L189.2,102.5 L186.9,103.1Z M204.4,95.8 L206.7,95.6 L209.0,95.5 L211.3,95.3 L213.6,95.3 L213.6,99.1 L211.3,99.1 L209.0,99.3 L206.7,99.4 L204.4,99.7Z M221.8,95.4 L224.1,95.6 L226.4,95.8 L228.7,96.0 L231.0,96.3 L231.0,100.1 L228.7,99.8 L226.4,99.6 L224.1,99.4 L221.8,99.2Z M239.3,97.6 L241.6,98.1 L243.9,98.5 L246.2,99.1 L248.5,99.6 L248.5,103.6 L246.2,103.0 L243.9,102.4 L241.6,101.9 L239.3,101.5Z M256.8,102.0 L259.1,102.7 L261.4,103.4 L263.6,104.2 L265.9,105.0 L265.9,109.1 L263.6,108.2 L261.4,107.5 L259.1,106.7 L256.8,105.9Z M274.2,108.2 L276.5,109.1 L278.8,110.1 L281.1,111.1 L283.4,112.1 L283.4,116.3 L281.1,115.3 L278.8,114.2 L276.5,113.3 L274.2,112.3Z M291.7,116.0 L294.0,117.2 L296.3,118.4 L298.6,119.6 L300.9,120.8 L300.9,125.1 L298.6,123.9 L296.3,122.7 L294.0,121.5 L291.7,120.3Z M309.1,125.4 L311.4,126.8 L313.7,128.1 L316.0,129.5 L318.3,130.9 L318.3,135.4 L316.0,134.0 L313.7,132.6 L311.4,131.2 L309.1,129.8Z M326.6,136.2 L328.9,137.7 L331.2,139.2 L333.5,140.8 L335.8,142.4 L335.8,147.0 L333.5,145.4 L331.2,143.8 L328.9,142.3 L326.6,140.7Z M344.1,148.2 L346.4,149.8 L348.7,151.5 L351.0,153.2 L353.3,154.9 L353.3,159.7 L351.0,158.0 L348.7,156.2 L346.4,154.5 L344.1,152.9Z M361.5,161.2 L363.8,163.0 L366.1,164.8 L368.4,166.6 L370.7,168.4 L370.7,173.3 L368.4,171.4 L366.1,169.6 L363.8,167.8 L361.5,166.0Z M379.0,175.0 L381.3,176.9 L383.6,178.8 L385.9,180.7 L388.2,182.6 L388.2,187.5 L385.9,185.6 L383.6,183.7 L381.3,181.8 L379.0,179.9Z M396.5,189.4 L398.8,191.3 L401.1,193.2 L403.4,195.2 L405.7,197.1 L405.7,202.1 L403.4,200.1 L401.1,198.2 L398.8,196.3 L396.5,194.3Z M413.9,204.0 L416.2,206.0 L418.5,207.9 L420.8,209.9 L423.1,211.8 L423.1,216.8 L420.8,214.8 L418.5,212.9 L416.2,211.0 L413.9,209.0Z M431.4,218.8 L433.7,220.7 L436.0,222.7 L438.3,224.6 L440.6,226.6 L440.6,231.5 L438.3,229.6 L436.0,227.6 L433.7,225.7 L431.4,223.8Z M448.9,233.5 L451.2,235.4 L453.5,237.4 L455.8,239.3 L458.1,241.2 L458.1,246.1 L455.8,244.2 L453.5,242.3 L451.2,240.4 L448.9,238.5Z M466.3,248.0 L468.6,249.9 L470.9,251.8 L473.2,253.7 L475.5,255.6 L475.5,260.5 L473.2,258.6 L470.9,256.7 L468.6,254.9 L466.3,253.0Z M483.8,262.3 L486.1,264.1 L488.4,265.9 L490.7,267.8 L493.0,269.6 L493.0,274.4 L490.7,272.6 L488.4,270.8 L486.1,269.0 L483.8,267.1Z M501.3,276.0 L503.6,277.8 L505.9,279.6 L508.2,281.3 L510.5,283.1 L510.5,287.9 L508.2,286.1 L505.9,284.4 L503.6,282.6 L501.3,280.8Z M518.7,289.3 L521.0,291.0 L523.3,292.7 L525.6,294.4 L527.9,296.1 L527.9,300.8 L525.6,299.1 L523.3,297.5 L521.0,295.8 L518.7,294.1Z M536.2,302.1 L538.5,303.7 L540.8,305.3 L543.1,307.0 L545.4,308.6 L545.4,313.2 L543.1,311.6 L540.8,310.0 L538.5,308.4 L536.2,306.7Z M553.7,314.3 L556.0,315.8 L558.3,317.4 L560.6,318.9 L562.9,320.4 L562.9,325.0 L560.6,323.5 L558.3,321.9 L556.0,320.4 L553.7,318.8Z M571.1,325.8 L573.4,327.3 L575.7,328.7 L578.0,330.2 L580.3,331.6 L580.3,336.1 L578.0,334.7 L575.7,333.2 L573.4,331.8 L571.1,330.3Z M588.6,336.7 L590.9,338.1 L593.2,339.5 L595.5,340.8 L597.8,342.2 L597.8,346.6 L595.5,345.2 L593.2,343.9 L590.9,342.5 L588.6,341.1Z M606.1,346.9 L608.4,348.2 L610.7,349.5 L613.0,350.8 L615.3,352.0 L615.3,356.3 L613.0,355.1 L610.7,353.8 L608.4,352.6 L606.1,351.3Z M623.5,356.4 L625.8,357.6 L628.1,358.8 L630.4,360.0 L632.7,361.1 L632.7,365.4 L630.4,364.2 L628.1,363.1 L625.8,361.9 L623.5,360.7Z M641.0,365.2 L643.3,366.3 L645.6,367.4 L647.9,368.5 L650.2,369.6 L650.2,373.7 L647.9,372.7 L645.6,371.6 L643.3,370.5 L641.0,369.4Z M658.4,373.3 L660.7,374.3 L663.0,375.3 L665.3,376.2 L667.6,377.2 L667.6,381.3 L665.3,380.4 L663.0,379.4 L660.7,378.4 L658.4,377.4Z M675.9,380.6 L678.2,381.5 L680.5,382.4 L682.8,383.3 L685.1,384.1 L685.1,388.2 L682.8,387.3 L680.5,386.5 L678.2,385.6 L675.9,384.7Z M693.4,387.1 L695.7,387.9 L698.0,388.7 L700.3,389.5 L702.6,390.3 L702.6,394.3 L700.3,393.5 L698.0,392.7 L695.7,392.0 L693.4,391.2Z M710.8,392.9 L713.1,393.6 L715.4,394.3 L717.7,395.0 L720.0,395.7 L720.0,399.6 L717.7,399.0 L715.4,398.3 L713.1,397.6 L710.8,396.9Z M728.3,398.0 L730.6,398.6 L732.9,399.2 L735.2,399.8 L737.5,400.3 L737.5,404.3 L735.2,403.7 L732.9,403.1 L730.6,402.5 L728.3,401.9Z M745.8,402.3 L748.1,402.8 L750.4,403.4 L752.7,403.9 L755.0,404.3 L755.0,408.2 L752.7,407.7 L750.4,407.2 L748.1,406.7 L745.8,406.2Z M763.2,406.0 L765.5,406.5 L767.8,406.9 L770.1,407.3 L772.4,407.8 L772.4,411.6 L770.1,411.2 L767.8,410.8 L765.5,410.3 L763.2,409.9Z M780.7,409.2 L783.0,409.6 L785.3,409.9 L787.6,410.3 L789.9,410.6 L789.9,414.5 L787.6,414.1 L785.3,413.8 L783.0,413.4 L780.7,413.0Z M798.2,411.8 L800.5,412.1 L802.8,412.4 L805.1,412.7 L807.4,413.0 L807.4,416.8 L805.1,416.5 L802.8,416.2 L800.5,415.9 L798.2,415.6Z M815.6,414.0 L817.9,414.2 L820.2,414.5 L822.5,414.7 L824.8,414.9 L824.8,418.8 L822.5,418.5 L820.2,418.3 L817.9,418.0 L815.6,417.8Z M833.1,415.7 L835.4,415.9 L837.7,416.1 L840.0,416.3 L842.3,416.5 L842.3,420.3 L840.0,420.1 L837.7,419.9 L835.4,419.7 L833.1,419.5Z M850.6,417.1 L852.9,417.3 L855.2,417.4 L857.5,417.5 L859.8,417.7 L859.8,421.5 L857.5,421.4 L855.2,421.2 L852.9,421.1 L850.6,420.9Z M868.0,418.1 L870.3,418.2 L872.6,418.4 L874.9,418.5 L877.2,418.6 L877.2,422.4 L874.9,422.3 L872.6,422.2 L870.3,422.1 L868.0,421.9Z M885.5,418.9 L887.8,418.9 L890.1,419.0 L892.4,419.1 L894.7,419.1 L894.7,422.9 L892.4,422.9 L890.1,422.8 L887.8,422.7 L885.5,422.7Z M903.0,419.3 L905.3,419.3 L907.6,419.4 L909.9,419.4 L912.2,419.4 L912.2,423.2 L909.9,423.2 L907.6,423.2 L905.3,423.1 L903.0,423.1Z M920.4,419.5 L922.7,419.5 L925.0,419.5 L927.3,419.5 L929.6,419.5 L929.6,423.3 L927.3,423.3 L925.0,423.3 L922.7,423.3 L920.4,423.3Z" fill="#0000ff" stroke="none"/>
<rect x="82.7" y="15.75" width="847.4" height="541.05" fill="none" stroke="#2b2b2b" stroke-width="1.3"/>
<text class="tk" transform="translate(72.9,30.0) skewX(-5) scale(0.6,1)" text-anchor="end">1.5</text>
<text class="tk" transform="translate(72.9,164.9) skewX(-5) scale(0.6,1)" text-anchor="end">1</text>
<text class="tk" transform="translate(72.9,300.9) skewX(-5) scale(0.6,1)" text-anchor="end">0.5</text>
<text class="tk" transform="translate(72.9,435.7) skewX(-5) scale(0.6,1)" text-anchor="end">0</text>
<text class="tk" transform="translate(72.9,572.3) skewX(-5) scale(0.6,1)" text-anchor="end">-<tspan dx="3">0.5</tspan></text>
<text class="tk" transform="translate(80.7,606.0) skewX(-5) scale(0.6,1)" text-anchor="middle">0</text>
<text class="tk" transform="translate(174.9,606.0) skewX(-5) scale(0.6,1)" text-anchor="middle">2</text>
<text class="tk" transform="translate(269.0,606.0) skewX(-5) scale(0.6,1)" text-anchor="middle">4</text>
<text class="tk" transform="translate(363.2,606.0) skewX(-5) scale(0.6,1)" text-anchor="middle">6</text>
<text class="tk" transform="translate(457.3,606.0) skewX(-5) scale(0.6,1)" text-anchor="middle">8</text>
<text class="tk" transform="translate(553.3,606.0) skewX(-5) scale(0.6,1)" text-anchor="middle">10</text>
<text class="tk" transform="translate(647.4,606.0) skewX(-5) scale(0.6,1)" text-anchor="middle">12</text>
<text class="tk" transform="translate(741.6,606.0) skewX(-5) scale(0.6,1)" text-anchor="middle">14</text>
<text class="tk" transform="translate(835.7,606.0) skewX(-5) scale(0.6,1)" text-anchor="middle">16</text>
<text class="tk" transform="translate(929.9,606.0) skewX(-5) scale(0.6,1)" text-anchor="middle">18</text>
<text transform="translate(506.8,655.9) skewX(-9) scale(0.88,1)" text-anchor="middle" style="font-style:italic;font-size:37px">η</text>
<text transform="translate(22.2,324) rotate(-90) skewX(-13) scale(1.71,1)" style="font-style:italic;font-size:26.5px">θ<tspan style="font-weight:bold;font-size:26px" dx="0.5">(</tspan><tspan style="font-size:27px" dx="-0.5">η</tspan><tspan style="font-weight:bold;font-size:26px" dx="-1">)</tspan></text>
<text transform="translate(267.9,189.6) skewX(-5) scale(0.632,1)" style="font-style:italic;font-weight:bold;font-size:35.5px" fill="#bf00bf">n=0,1,2</text>
<text transform="translate(382.9,369.7) scale(0.648,1)" style="font-weight:bold;font-size:35.5px" fill="#bf00bf">n=0,1,2</text>
<path d="M340.3,176.2 L403,136.3" stroke="#bf00bf" stroke-width="1.3" fill="none"/>
<path d="M415.4,128.1 L400,129 L404.9,144.4 Z" fill="#bf00bf"/>
<path d="M377.0,355.6 L319.4,394.8" stroke="#bf00bf" stroke-width="1.15" fill="none"/>
<path d="M306.6,403.6 L317.6,386.5 L321.7,402.1 Z" fill="#bf00bf"/>
</svg></body></html>
